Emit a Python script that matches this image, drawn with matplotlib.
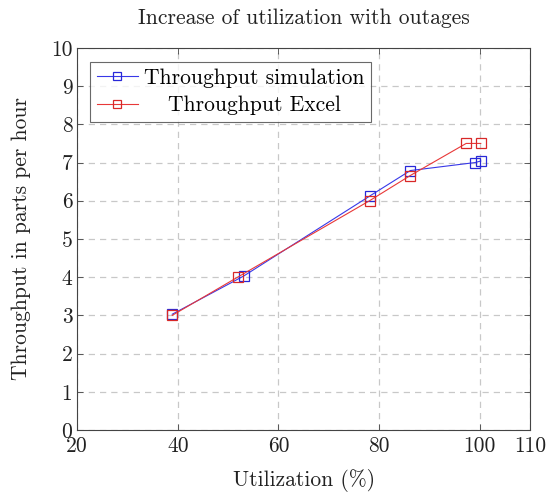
import numpy as np
import matplotlib
matplotlib.use("Agg")
import matplotlib.pyplot as plt

# --- données ---
util_sim = [38.9, 53.1, 78.1, 86.2, 99.1, 100.2]
thr_sim = [3.03, 4.03, 6.12, 6.79, 7.0, 7.04]
util_xls = [38.9, 51.9, 78.1, 86.2, 97.3, 100.2]
thr_xls = [3.0, 4.0, 6.0, 6.66, 7.5, 7.5]

x_ticks = [20, 40, 60, 80, 100, 110]
y_ticks = list(range(0, 11))

plt.rcParams['font.family'] = 'cmr10'
plt.rcParams['mathtext.fontset'] = 'cm'
plt.rcParams['axes.formatter.use_mathtext'] = True

FS = 15.5
fig = plt.figure(figsize=(5.51, 4.94), dpi=100)
ax = fig.add_axes([0.14, 0.1296, 0.822, 0.7734])

ax.plot(util_sim, thr_sim, '-', color='#3838e8', lw=0.8, marker='s', ms=7,
        mfc='none', mec='#2828d8', mew=0.9, label='Throughput simulation')
ax.plot(util_xls, thr_xls, '-', color='#e83838', lw=0.8, marker='s', ms=7,
        mfc='none', mec='#d82828', mew=0.9, label='Throughput Excel')

ax.set_xlim(20, 110)
ax.set_ylim(0, 10)
ax.set_xticks(x_ticks)
ax.set_yticks(y_ticks)
ax.set_xticklabels([str(v) for v in x_ticks])
ax.set_yticklabels([str(v) for v in y_ticks])
ax.tick_params(direction='in', top=True, right=True, labelsize=FS, length=4,
               width=0.6, colors='#444444', labelcolor='#222222')
ax.tick_params(axis='x', pad=5)
ax.grid(True, ls=(0, (5, 4)), color='#c8c8c8', lw=0.9)
for s in ax.spines.values():
    s.set_color('#444444')
    s.set_linewidth(0.8)

ax.set_xlabel('Utilization (%)', fontsize=FS, color='#222222', labelpad=9)
ax.set_ylabel('Throughput in parts per hour', fontsize=FS, color='#222222', labelpad=14)
ax.set_title('Increase of utilization with outages', fontsize=FS, color='#222222', pad=17)

leg = ax.legend(loc='upper left', bbox_to_anchor=(0.029, 0.963), fontsize=15.5,
                frameon=True, fancybox=False, edgecolor='#444444',
                handlelength=1.9, handletextpad=0.3, borderpad=0.3,
                labelspacing=0.35, borderaxespad=0, markerscale=0.75)
leg.get_frame().set_linewidth(0.8)

# centrer les libellés de la légende (comme pgfplots)
fig.canvas.draw()
r = fig.canvas.get_renderer()
widths = [t.get_window_extent(r).width for t in leg.get_texts()]
w = max(widths)
for t, wi in zip(leg.get_texts(), widths):
    t.set_position(((w - wi) / 2, 0))

fig.savefig('out.png', dpi=100)
